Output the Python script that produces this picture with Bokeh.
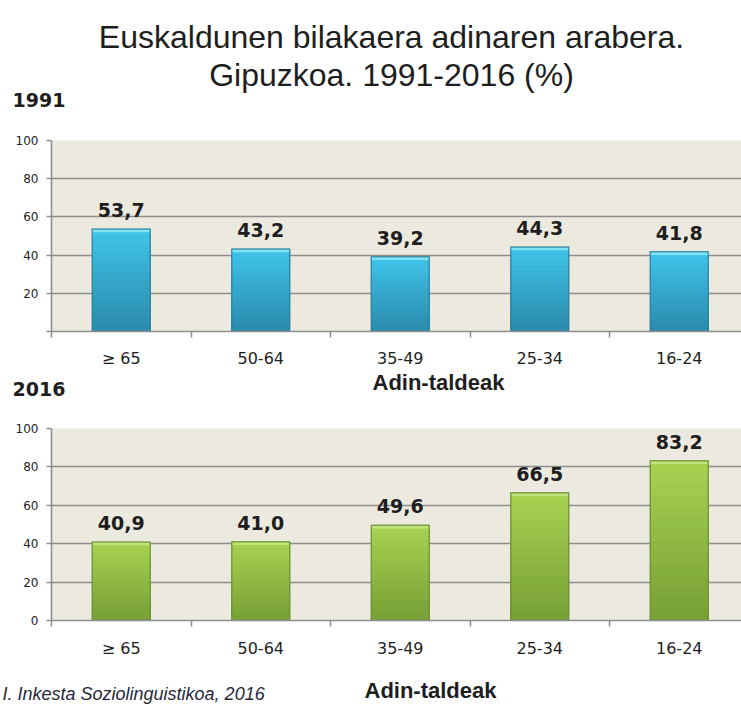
from bokeh.plotting import figure
from bokeh.models import Range1d, FixedTicker, LabelSet, Label, ColumnDataSource
from bokeh.core.properties import value
from bokeh.layouts import column, row
from bokeh.embed import file_html
from bokeh.resources import INLINE

# ---------------- data ----------------
categories = ["≥ 65", "50-64", "35-49", "25-34", "16-24"]
values_1991 = [53.7, 43.2, 39.2, 44.3, 41.8]
values_2016 = [40.9, 41.0, 49.6, 66.5, 83.2]
y_ticks = [0, 20, 40, 60, 80, 100]
title_lines = ["Euskaldunen bilakaera adinaren arabera.", "Gipuzkoa. 1991-2016 (%)"]
year_labels = ["1991", "2016"]
axis_title = "Adin-taldeak"
source_text = "I. Inkesta Soziolinguistikoa, 2016"

# ---------------- styling ----------------
W = 741
BG = "#ece9df"
GRID = "#8e8e8e"
TXT = "#1e1e1e"
BAR_W = 0.416
LEFT = 51
FRAME_W = W - LEFT
CAT_PX = 139.5


def hex2rgb(h):
    h = h.lstrip("#")
    return tuple(int(h[i:i + 2], 16) for i in (0, 2, 4))


def blend(c1, c2, t):
    a, b = hex2rgb(c1), hex2rgb(c2)
    return "#%02x%02x%02x" % tuple(int(round(a[i] + (b[i] - a[i]) * t)) for i in range(3))


def make_chart(values, top_c, bot_c, cap_c, edge_c, border_top, frame_h, border_bottom,
               label_standoff, hide_zero):
    xs = [i + 0.5 for i in range(len(categories))]
    p = figure(frame_width=FRAME_W, frame_height=frame_h,
               min_border_left=LEFT, min_border_right=0,
               min_border_top=border_top, min_border_bottom=border_bottom,
               x_range=Range1d(0, FRAME_W / CAT_PX), y_range=Range1d(0, 100),
               output_backend="svg", toolbar_location=None, tools="")
    p.background_fill_color = BG
    p.border_fill_color = "white"
    p.outline_line_color = None

    # bars with a layered vertical gradient
    N = 14
    for k in range(N):
        frac = (N - k) / N
        src = ColumnDataSource(dict(x=xs, top=[v * frac for v in values]))
        p.vbar(x="x", top="top", bottom=0, width=BAR_W, source=src,
               fill_color=blend(top_c, bot_c, k / (N - 1)), line_color=None)
    cap = ColumnDataSource(dict(x=xs, top=values, bottom=[v - 1.7 for v in values]))
    p.vbar(x="x", top="top", bottom="bottom", width=BAR_W, source=cap,
           fill_color=cap_c, line_color=None)
    outline = ColumnDataSource(dict(x=xs, top=values))
    p.vbar(x="x", top="top", bottom=0, width=BAR_W, source=outline,
           fill_color=None, line_color=edge_c, line_width=1.5, line_alpha=0.8)

    # value labels
    lab = ColumnDataSource(dict(x=xs, y=values,
                                t=[f"{v:.1f}".replace(".", ",") for v in values]))
    p.add_layout(LabelSet(x="x", y="y", text="t", source=lab, y_offset=12,
                          text_align="center", text_baseline="alphabetic",
                          text_font=value("DejaVu Sans"), text_font_style="bold",
                          text_font_size="19px", text_color=TXT))

    # axes
    p.xgrid.visible = False
    p.ygrid.ticker = FixedTicker(ticks=y_ticks)
    p.ygrid.grid_line_color = GRID
    p.ygrid.grid_line_width = 1.6

    xa = p.xaxis[0]
    xa.ticker = FixedTicker(ticks=xs, minor_ticks=list(range(len(categories) + 1)))
    xa.major_label_overrides = {x: c for x, c in zip(xs, categories)}
    xa.major_tick_line_color = None
    xa.major_tick_out = 0
    xa.major_tick_in = 0
    xa.minor_tick_out = 6
    xa.minor_tick_in = 0
    xa.minor_tick_line_color = GRID
    xa.minor_tick_line_width = 1.5
    xa.axis_line_color = GRID
    xa.axis_line_width = 1.6
    xa.major_label_standoff = label_standoff
    xa.major_label_text_font = "DejaVu Sans"
    xa.major_label_text_font_size = "16px"
    xa.major_label_text_color = TXT

    ya = p.yaxis[0]
    ya.ticker = FixedTicker(ticks=y_ticks, minor_ticks=[])
    if hide_zero:
        ya.major_label_overrides = {0: ""}
    ya.major_tick_out = 5
    ya.major_tick_in = 0
    ya.major_tick_line_color = GRID
    ya.major_tick_line_width = 1.5
    ya.axis_line_color = GRID
    ya.axis_line_width = 1.6
    ya.major_label_standoff = 8
    ya.major_label_text_font = "DejaVu Sans"
    ya.major_label_text_font_size = "12px"
    ya.major_label_text_color = TXT
    return p


def text_fig(height, items):
    """A strip of the page that only carries text; x and y are pixels (y downwards)."""
    p = figure(width=W, height=height, x_range=Range1d(0, W), y_range=Range1d(height, 0),
               min_border_left=0, min_border_right=0, min_border_top=0, min_border_bottom=0,
               x_axis_location=None, y_axis_location=None, title=None,
               output_backend="svg", toolbar_location=None, tools="")
    p.grid.visible = False
    p.outline_line_color = None
    p.background_fill_color = "white"
    p.border_fill_color = "white"
    for x, y, text, font, size, style, align, color in items:
        p.add_layout(Label(x=x, y=y, text=text, text_font=font, text_font_size=size,
                           text_font_style=style, text_align=align,
                           text_baseline="alphabetic", text_color=color))
    return p


header = text_fig(132, [
    (391, 36, title_lines[0], "Liberation Sans", "32px", "normal", "center", TXT),
    (391, 74, title_lines[1], "Liberation Sans", "32px", "normal", "center", TXT),
    (12, 99, year_labels[0], "DejaVu Sans", "19px", "bold", "left", TXT),
])

p1 = make_chart(values_1991, "#3fc2e8", "#2a8cae", "#80e4f8", "#2b7f9b",
                border_top=8, frame_h=191, border_bottom=38, label_standoff=11,
                hide_zero=True)

mid = text_fig(50, [
    (438, 12, axis_title, "Liberation Sans", "22px", "bold", "center", TXT),
    (12, 18, year_labels[1], "DejaVu Sans", "19px", "bold", "left", TXT),
])

p2 = make_chart(values_2016, "#a6d150", "#78a136", "#bfe37a", "#6a8e2f",
                border_top=8, frame_h=192, border_bottom=46, label_standoff=12,
                hide_zero=False)

footer = text_fig(39, [
    (430, 24, axis_title, "Liberation Sans", "22px", "bold", "center", TXT),
    (2, 27, source_text, "Liberation Sans", "18px", "italic", "left", "#26283a"),
])

layout = column(row(header), row(p1), row(mid), row(p2), row(footer), spacing=0)
open("out.html", "w").write(file_html(layout, INLINE))
